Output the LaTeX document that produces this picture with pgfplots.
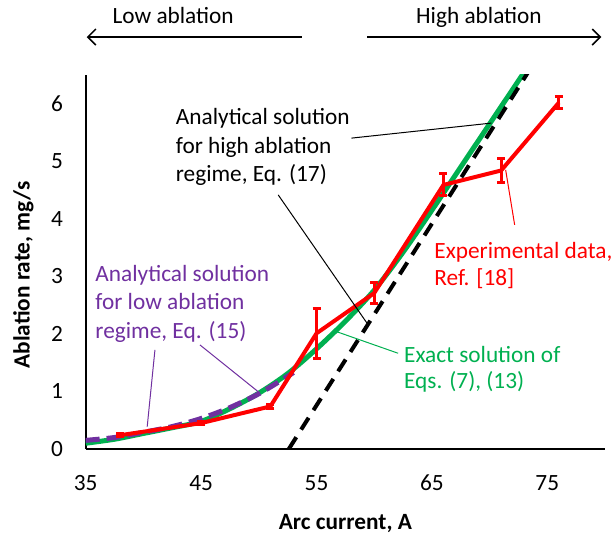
\documentclass[border=0pt]{standalone}
\usepackage{fontspec}
\setmainfont{Carlito}
\usepackage{pgfplots}
\pgfplotsset{compat=1.18}
\usetikzlibrary{arrows.meta}
\definecolor{xred}{RGB}{255,0,0}
\definecolor{xgreen}{RGB}{0,176,80}
\definecolor{xpurple}{RGB}{112,48,160}
\tikzset{ann/.style={anchor=base west, inner sep=0pt}}
\begin{document}
\fontsize{11.65}{14}\selectfont
\begin{tikzpicture}
\path[use as bounding box] (-42.85pt,-42pt) rectangle (263.65pt,224.5pt);
\begin{axis}[at={(0,0)}, anchor=south west, scale only axis,
  width=259.65pt, height=187pt,
  xmin=35, xmax=80, ymin=0, ymax=6.5,
  axis lines*=left,
  axis line style={line width=1pt, black},
  xtick={35,45,55,65,75}, ytick={0,1,2,3,4,5,6},
  major tick length=0pt, tick style={draw=none},
  /pgf/number format/assume math mode=true,
  ticklabel style={font=\fontsize{11.65}{14}\selectfont},
  xticklabel style={anchor=center, yshift=-16.85pt},
  yticklabel style={anchor=east, inner sep=0pt, xshift=-11.2pt},
  xlabel={\bfseries Arc current, A},
  xlabel style={at={(axis description cs:0.5,0)}, anchor=base, yshift=-40pt, font=\fontsize{11.65}{14}\selectfont},
  ylabel={\bfseries Ablation rate, mg/s},
  ylabel style={at={(axis description cs:-0.1202,0.465)}, anchor=center, font=\fontsize{11.65}{14}\selectfont},
  clip mode=individual,
]
% Exact solution (green)
\addplot[xgreen, line width=2.5pt, smooth] coordinates {
(35,0.10) (37.5,0.17) (40,0.27) (42.5,0.37) (45,0.48) (47.5,0.70) (50,0.97)
(52.5,1.31) (55,1.74) (57.5,2.22) (60,2.76) (62.5,3.42) (65,4.15) (67.5,4.9)
(70,5.65) (72.5,6.4) (73,6.55)};
% Analytical low ablation (purple dashed)
\addplot[xpurple, line width=2.5pt, dash pattern=on 7pt off 3.5pt, smooth] coordinates {
(35,0.15) (37.5,0.20) (40,0.29) (42.5,0.39) (45,0.53) (47.5,0.72) (50,0.96) (52,1.20) (53,1.33)};
% Analytical high ablation (black dashed)
\addplot[black, line width=2pt, dash pattern=on 7pt off 4.5pt] coordinates {
(52.6,0) (73.5,6.6)};
% Experimental data (red)
\addplot[xred, line width=2pt, mark=none,
  error bars/.cd, y dir=both, y explicit,
  error bar style={line width=1.5pt, xred},
  error mark options={rotate=90, mark size=2pt, line width=1.5pt, xred}]
  table[x=x, y=y, y error=e] {
x y e
38 0.24 0.03
45 0.45 0.03
51 0.74 0.04
55 2.01 0.435
60 2.71 0.175
66 4.59 0.19
71 4.84 0.21
76 6.02 0.11
};
% annotations
\def\lw{0.5pt}
\node[ann, black] at (axis cs:42.78,5.635) {Analytical solution};
\node[ann, black] at (axis cs:42.78,5.130) {for high ablation};
\node[ann, black] at (axis cs:42.78,4.643) {regime, Eq. (17)};
\node[ann, xpurple] at (axis cs:35.81,2.904) {Analytical solution};
\node[ann, xpurple] at (axis cs:35.81,2.417) {for low ablation};
\node[ann, xpurple] at (axis cs:35.81,1.913) {regime, Eq. (15)};
\node[ann, xred] at (axis cs:65.18,3.313) {Experimental data,};
\node[ann, xred] at (axis cs:65.18,2.843) {Ref. [18]};
\node[ann, xgreen] at (axis cs:62.56,1.496) {Exact solution of};
\node[ann, xgreen] at (axis cs:62.56,1.043) {Eqs. (7), (13)};
\draw[black, line width=\lw] (axis cs:58.03,5.403) -- (axis cs:70.15,5.664);
\draw[black, line width=\lw] (axis cs:51.68,4.417) -- (axis cs:59.38,2.186);
\draw[xpurple, line width=\lw] (axis cs:41.0,1.722) -- (axis cs:40.33,0.388);
\draw[xpurple, line width=\lw] (axis cs:44.90,1.809) -- (axis cs:49.94,0.997);
\draw[xred, line width=\lw] (axis cs:71.39,4.852) -- (axis cs:72.17,3.896);
\draw[xgreen, line width=\lw] (axis cs:56.73,2.04) -- (axis cs:62.07,1.664);
% top arrows
\node[anchor=base] at (axis cs:42.58,7.39) {Low ablation};
\node[anchor=base] at (axis cs:69.08,7.39) {High ablation};
\draw[line width=0.75pt, -{Straight Barb[length=4pt, width=8pt]}] (axis cs:53.70,7.16) -- (axis cs:35.09,7.16);
\draw[line width=0.75pt, -{Straight Barb[length=4pt, width=8pt]}] (axis cs:59.38,7.16) -- (axis cs:79.68,7.16);
\end{axis}
\end{tikzpicture}
\end{document}
